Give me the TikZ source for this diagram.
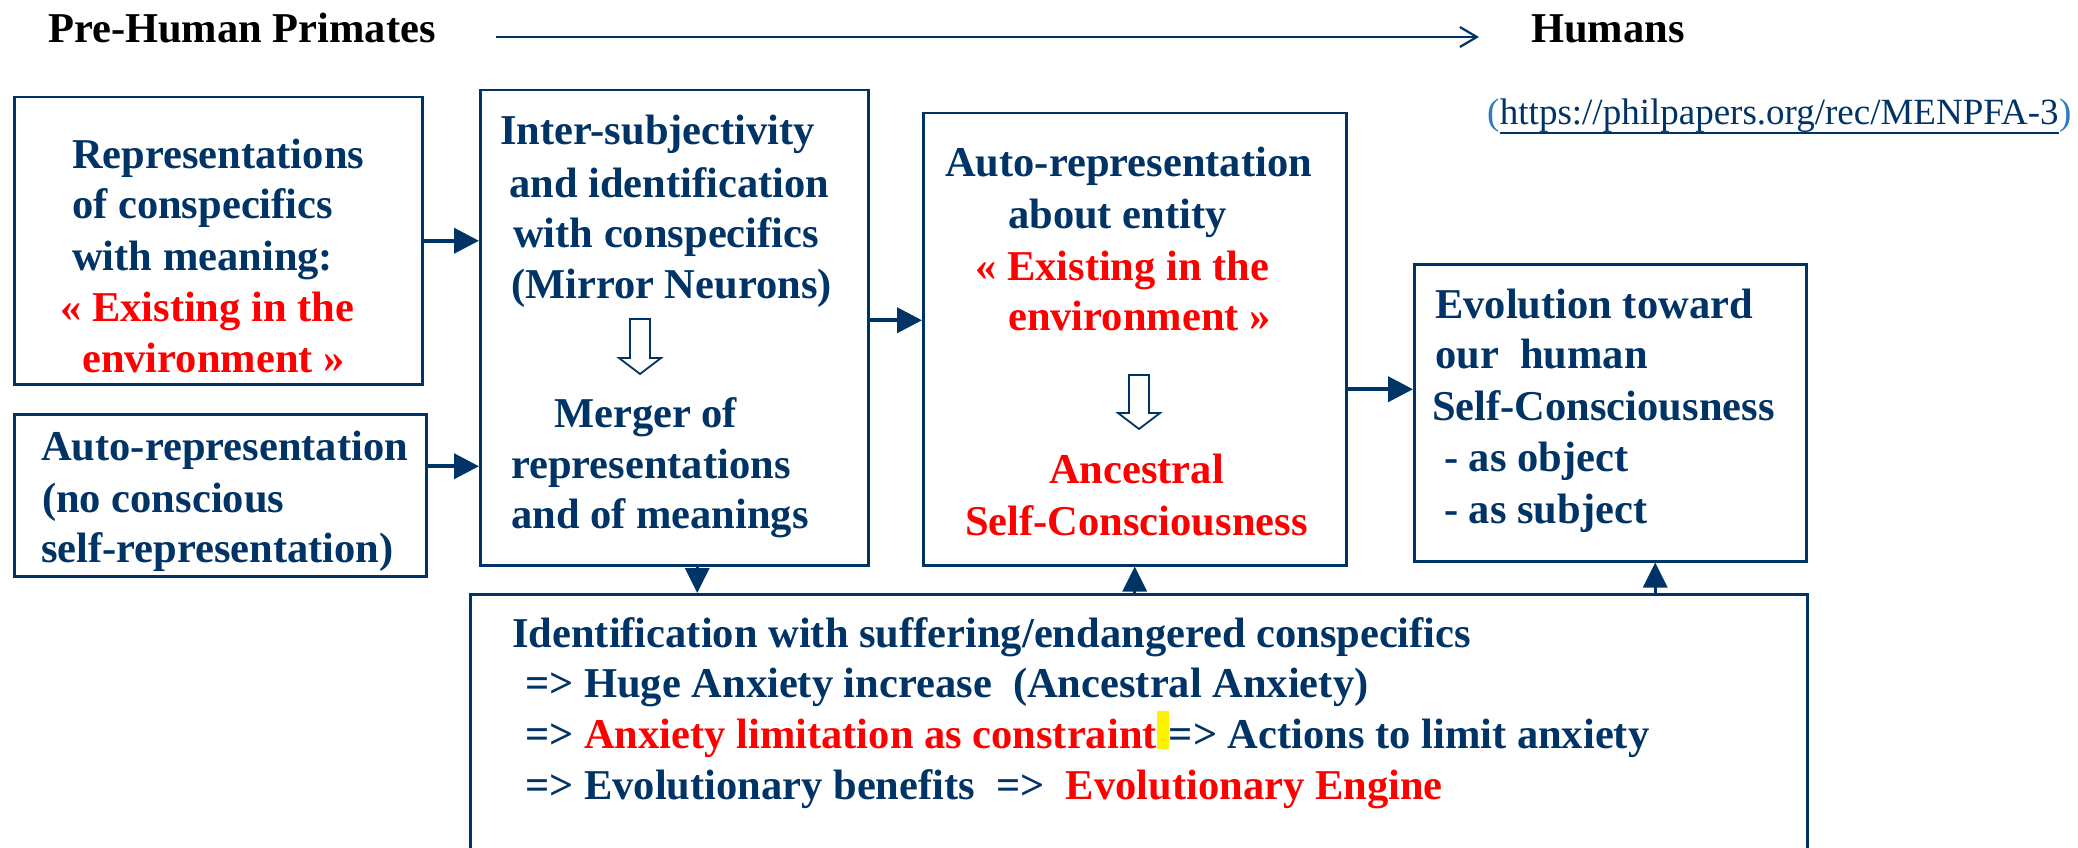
\documentclass[tikz,border=0pt]{standalone}
\usepackage{fontspec}
\setmainfont{Liberation Serif}
\usetikzlibrary{arrows.meta}
\definecolor{navy}{HTML}{003366}
\definecolor{linkblue}{HTML}{2E7BC4}
\newcommand{\hlbar}{\textcolor{yellow}{\rule[-1pt]{12pt}{38pt}}}
\begin{document}
\begin{tikzpicture}[x=1pt,y=-1pt,
  box/.style={draw=navy, line width=2.5pt, inner sep=0pt, anchor=north west},
  txt/.style={inner sep=0pt, anchor=base west, text=navy, font=\fontsize{42.5}{51}\selectfont\bfseries},
  redtxt/.style={txt, text=red},
  headtxt/.style={txt, text=black},
  urltxt/.style={inner sep=0pt, anchor=base west, text=navy, font=\fontsize{37}{44}\selectfont},
  conn/.style={draw=navy, line width=4pt, -{Triangle[length=25pt,width=25pt]}},
  vconn/.style={draw=navy, line width=3pt, -{Triangle[length=25pt,width=24pt]}},
  hollow/.style={draw=navy, line width=1.8pt, fill=white, line join=miter},
]
\useasboundingbox (0,0) rectangle (2078,848);
\fill[white] (0,0) rectangle (2078,848);

% header
\node[headtxt] (pre) at (48,43) {Pre-Human Primates};
\node[headtxt] (hum) at (1531,43) {Humans};
\draw[navy, line width=2.2pt, -{Straight Barb[length=17pt,width=20pt,line width=2.2pt]}]
  ([xshift=60pt,yshift=6pt]pre.base east) -- ([xshift=-52pt,yshift=6pt]hum.base west);

% url
\node[urltxt, text=linkblue] (urll) at (1487,125) {(};
\node[urltxt] (url) at (urll.base east) {https://philpapers.org/rec/MENPFA-3};
\node[urltxt, text=linkblue] (urlr) at (url.base east) {)};
\draw[navy, line width=1.5pt] ([yshift=-8pt]url.base west) -- ([yshift=-8pt]url.base east);

% boxes
\node[box, minimum width=408pt, minimum height=287pt] (A) at (13,96) {};
\node[box, minimum width=412pt, minimum height=162pt] (B) at (13,413) {};
\node[box, minimum width=388pt, minimum height=475pt] (C) at (479,89) {};
\node[box, minimum width=423pt, minimum height=452pt] (D) at (922,112) {};
\node[box, minimum width=392pt, minimum height=297pt] (E) at (1413,263) {};
\node[box, minimum width=1337pt, minimum height=320pt] (F) at (469,593) {};

% box A text
\node[txt] (a1) at (72,168) {Representations};
\node[txt] (a2) at (72,218) {of conspecifics};
\node[txt] (a3) at (72,270) {with meaning:};
\node[redtxt] (a4) at (60,321) {« Existing in the};
\node[redtxt] (a5) at (82,372) {environment »};

% box B text
\node[txt] (b1) at (41,460) {Auto-representation};
\node[txt] (b2) at (42,512) {(no conscious};
\node[txt] (b3) at (41,562) {self-representation)};

% box C text
\node[txt] (c1) at (500,145) {Inter-subjectivity};
\node[txt] (c2) at (509,197) {and identification};
\node[txt] (c3) at (513,247) {with conspecifics};
\node[txt] (c4) at (511,298) {(Mirror Neurons)};
\node[txt] (c5) at (554,427) {Merger of};
\node[txt] (c6) at (511,478) {representations};
\node[txt] (c7) at (511,528) {and of meanings};
\draw[hollow] (630,319) -- (650,319) -- (650,358) -- (661,358) -- (640,374)
  -- (619,358) -- (630,358) -- cycle;

% box D text
\node[txt] (d1) at (945,177) {Auto-representation};
\node[txt] (d2) at (1008,228) {about entity};
\node[redtxt] (d3) at (975,280) {« Existing in the};
\node[redtxt] (d4) at (1008,330) {environment »};
\node[redtxt] (d5) at (1049,483) {Ancestral};
\node[redtxt] (d6) at (965,535) {Self-Consciousness};
\draw[hollow] (1129,375) -- (1149,375) -- (1149,413) -- (1160,413) -- (1139,429)
  -- (1118,413) -- (1129,413) -- cycle;

% box E text
\node[txt] (e1) at (1435,318) {Evolution toward};
\node[txt] (e2) at (1435,368) {our\ \ human};
\node[txt] (e3) at (1432,420) {Self-Consciousness};
\node[txt] (e4) at (1444,471) {- as object};
\node[txt] (e5) at (1444,523) {- as subject};

% box F text
\node[txt] (f1) at (512,647) {Identification with suffering/endangered conspecifics};
\node[txt] (f2) at (525,697) {=> Huge Anxiety increase\ \ (Ancestral Anxiety)};
\node[txt] (f3) at (525,748) {=> \textcolor{red}{Anxiety limitation as constraint}\hlbar=> Actions to limit anxiety};
\node[txt] (f4) at (525,799) {=> Evolutionary benefits\ \ =>\ \ \textcolor{red}{Evolutionary Engine}};

% connectors
\draw[conn] (A.east) -- (A.east -| C.west);
\draw[conn] ([yshift=29pt]B.east) -- ([yshift=29pt]B.east -| C.west);
\draw[conn] ([yshift=7.5pt]C.east) -- ([yshift=7.5pt]C.east -| D.west);
\draw[conn] ([yshift=-50pt]D.east) -- ([yshift=-50pt]D.east -| E.west);
\draw[vconn] ([xshift=23pt]C.south) -- ([xshift=23pt]C.south |- F.north);
\draw[vconn] (F.north -| D.south) -- (D.south);
\draw[vconn] ([xshift=45pt]E.south |- F.north) -- ([xshift=45pt]E.south);
\end{tikzpicture}
\end{document}
